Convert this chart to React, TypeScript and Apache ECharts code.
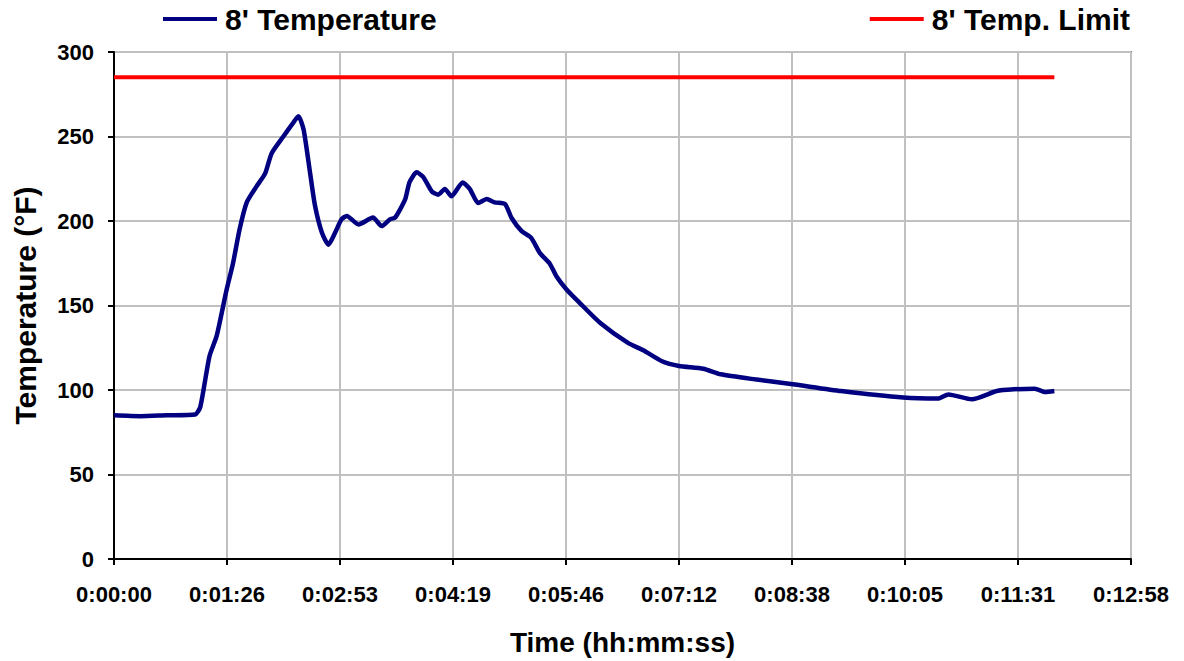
import React, { useEffect, useRef } from "react";
import * as echarts from "echarts";

// Time in seconds, temperature in °F
const timeSec = [
  0, 20, 40, 62, 66, 73, 78.5, 86, 91, 96, 101.5, 109, 115.5, 120.5, 129.5, 136, 141, 145, 150, 153.7,
  159, 164, 169, 174, 178, 187, 198, 204.7, 211, 215, 222.5, 226, 231.4, 236.5, 243, 248, 253, 258,
  266.6, 272, 278.5, 285, 291, 299, 304, 311.7, 319, 325.7, 333, 338.5, 346, 356, 371.6, 392.7, 404.7,
  419, 432, 450.6, 463.9, 490, 519, 556, 603.6, 630, 638, 656, 675, 688, 704, 712, 719,
];
const temperature = [
  85, 84.5, 85, 85.5, 90, 120, 132, 159, 175, 195, 211, 220.5, 228, 240, 250, 257, 262, 254, 228, 209,
  193, 186, 193, 201, 203, 198, 202, 197, 201, 202, 212.6, 223, 228.8, 226, 217.5, 215.6, 219, 214.6,
  222.8, 219, 210.6, 213, 211, 210, 201.8, 194, 190, 181, 175, 167, 159.5, 151.6, 139.8, 128, 123.5,
  117, 114.2, 112.6, 109.3, 106.3, 103.4, 99.4, 95.5, 94.9, 97.4, 94.5, 99.4, 100.4, 100.8, 98.8, 99.4,
];
const limitTime = [0, 719];
const limitValue = [285, 285];

const seriesNames = ["8' Temperature", "8' Temp. Limit"];
const xMax = 777.6;
const xInterval = 86.4;
const yMax = 300;
const yInterval = 50;

function fmtTime(sec: number): string {
  const s = Math.round(sec);
  const h = Math.floor(s / 3600);
  const m = Math.floor((s % 3600) / 60);
  const ss = s % 60;
  return `${h}:${String(m).padStart(2, "0")}:${String(ss).padStart(2, "0")}`;
}

const FONT = "Liberation Sans, Arial, sans-serif";

export default function App() {
  const ref = useRef<HTMLDivElement>(null);
  useEffect(() => {
    if (!ref.current) return;
    const chart = echarts.init(ref.current, undefined, { renderer: "svg" });
    const tempData = timeSec.map((t, i) => [t, temperature[i]]);
    const limData = limitTime.map((t, i) => [t, limitValue[i]]);
    chart.setOption({
      animation: false,
      backgroundColor: "#ffffff",
      textStyle: { fontFamily: FONT },
      grid: {
        left: 114,
        right: 53,
        top: 52,
        bottom: 101,
        show: true,
        borderColor: "#808080",
        borderWidth: 2,
        backgroundColor: "transparent",
      },
      legend: [
        {
          data: [seriesNames[0]],
          left: 158,
          top: -1,
          icon: "rect",
          itemWidth: 54,
          itemHeight: 4,
          textStyle: { fontFamily: FONT, fontSize: 30, fontWeight: "bold", color: "#000", padding: [0, 0, 0, 3] },
        },
        {
          data: [seriesNames[1]],
          right: 49,
          top: -1,
          icon: "rect",
          itemWidth: 54,
          itemHeight: 4,
          textStyle: { fontFamily: FONT, fontSize: 30, fontWeight: "bold", color: "#000", padding: [0, 0, 0, 3] },
        },
      ],
      xAxis: {
        type: "value",
        min: 0,
        max: xMax,
        interval: xInterval,
        name: "Time (hh:mm:ss)",
        nameLocation: "middle",
        nameGap: 69,
        nameTextStyle: { fontFamily: FONT, fontSize: 28, fontWeight: "bold", color: "#000" },
        axisLine: { show: true, onZero: false, lineStyle: { color: "#000", width: 2 } },
        axisTick: { show: true, inside: false, length: 6, lineStyle: { color: "#000", width: 2 } },
        axisLabel: {
          margin: 24,
          fontFamily: FONT,
          fontSize: 22,
          fontWeight: "bold",
          color: "#000",
          formatter: (v: number) => fmtTime(v),
          showMaxLabel: true,
        },
        splitLine: { show: true, lineStyle: { color: "#c0c0c0", width: 2 } },
      },
      yAxis: {
        type: "value",
        min: 0,
        max: yMax,
        interval: yInterval,
        name: "Temperature (°F)",
        nameLocation: "middle",
        nameGap: 74,
        nameRotate: 90,
        nameTextStyle: { fontFamily: FONT, fontSize: 30, fontWeight: "bold", color: "#000" },
        axisLine: { show: true, lineStyle: { color: "#000", width: 2 } },
        axisTick: { show: true, inside: false, length: 6, lineStyle: { color: "#000", width: 2 } },
        axisLabel: { margin: 20, fontFamily: FONT, fontSize: 22, fontWeight: "bold", color: "#000" },
        splitLine: { show: true, lineStyle: { color: "#c0c0c0", width: 2 } },
      },
      series: [
        {
          name: seriesNames[0],
          type: "line",
          data: tempData,
          showSymbol: false,
          symbol: "none",
          smooth: 0.2,
          lineStyle: { color: "#000080", width: 4.5 },
          itemStyle: { color: "#000080" },
          z: 3,
        },
        {
          name: seriesNames[1],
          type: "line",
          data: limData,
          showSymbol: false,
          symbol: "none",
          lineStyle: { color: "#ff0000", width: 4 },
          itemStyle: { color: "#ff0000" },
          z: 2,
        },
      ],
    });
    return () => chart.dispose();
  }, []);
  return <div ref={ref} style={{ width: 1184, height: 661, position: "absolute", left: 0, top: 0 }} />;
}
